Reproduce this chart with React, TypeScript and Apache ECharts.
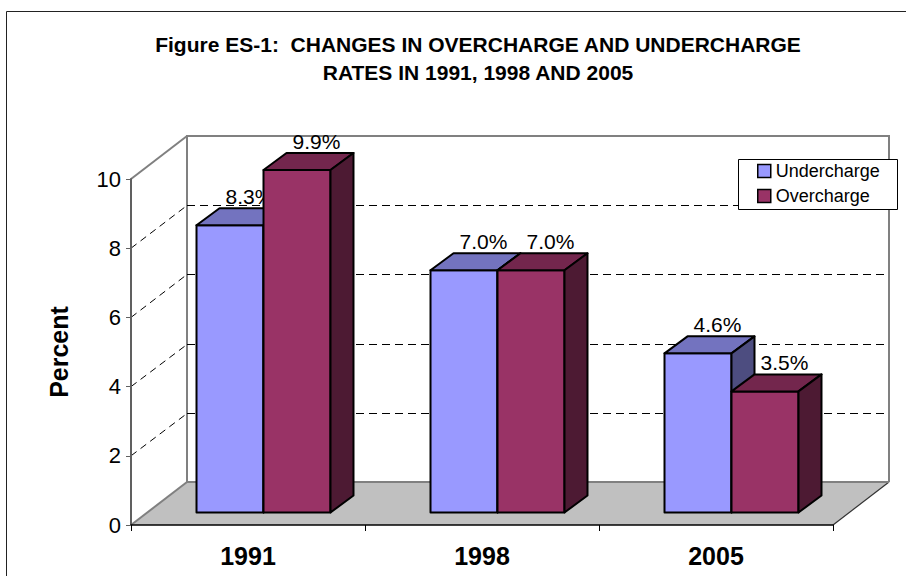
import React, { useEffect, useRef } from "react";
import * as echarts from "echarts";

// ---- data ----
const CATEGORIES = ["1991", "1998", "2005"];
const UNDERCHARGE = [8.3, 7.0, 4.6];
const OVERCHARGE = [9.9, 7.0, 3.5];
const SERIES_NAMES = ["Undercharge", "Overcharge"];
const Y_MIN = 0;
const Y_MAX = 10;
const Y_INTERVAL = 2;
const TITLE_TEXT = "Figure ES-1:  CHANGES IN OVERCHARGE AND UNDERCHARGE\nRATES IN 1991, 1998 AND 2005";
const Y_NAME = "Percent";

// ---- styling constants ----
const FONT = '"Liberation Sans", Arial, sans-serif';
const WALL_DX = 56; // depth of plot box
const WALL_DY = -43;
const BAR_OFF_X = 15.5; // front plane of bars inside box
const BAR_OFF_Y = -12.5;
const BAR_DX = 23; // bar depth
const BAR_DY = -17;
const BAR_RATIO = 0.2863;
const LABEL_SHIFT = 8;
const LEGEND_BOX = { x: 738.5, y: 159.5, w: 159, h: 50 };

const COLORS = [
  { front: "#9999FF", top: "#7373BF", side: "#4D4D80" },
  { front: "#993366", top: "#73264D", side: "#4D1A33" },
];

const crisp = (v: number) => Math.round(v) + 0.5;

function renderWalls(params: any, api: any) {
  const cs = params.coordSys;
  const x0 = cs.x;
  const x1 = cs.x + cs.width;
  const yb = api.coord([0, Y_MIN])[1];
  const yt = api.coord([0, Y_MAX])[1];
  const gray = "#808080";
  const children: any[] = [];
  children.push({
    type: "polygon",
    shape: { points: [[x0, yb], [x1, yb], [x1 + WALL_DX, yb + WALL_DY], [x0 + WALL_DX, yb + WALL_DY]] },
    style: { fill: "#C0C0C0" },
  });
  children.push({
    type: "line",
    shape: { x1: x0, y1: yb, x2: x0 + WALL_DX, y2: yb + WALL_DY },
    style: { stroke: gray, lineWidth: 2 },
  });
  children.push({
    type: "line",
    shape: { x1: x1, y1: yb, x2: x1 + WALL_DX, y2: yb + WALL_DY },
    style: { stroke: "#333", lineWidth: 1.2 },
  });
  children.push({
    type: "line",
    shape: { x1: x0 + WALL_DX, y1: yb + WALL_DY, x2: x1 + WALL_DX, y2: yb + WALL_DY },
    style: { stroke: gray, lineWidth: 2 },
  });
  children.push({
    type: "polyline",
    shape: {
      points: [
        [x0 + WALL_DX, yb + WALL_DY],
        [x0 + WALL_DX, yt + WALL_DY],
        [x1 + WALL_DX, yt + WALL_DY],
        [x1 + WALL_DX, yb + WALL_DY],
      ],
    },
    style: { stroke: gray, lineWidth: 2, fill: "none" },
  });
  children.push({
    type: "line",
    shape: { x1: x0, y1: yt, x2: x0 + WALL_DX, y2: yt + WALL_DY },
    style: { stroke: gray, lineWidth: 2 },
  });
  for (let v = Y_MIN + Y_INTERVAL; v < Y_MAX; v += Y_INTERVAL) {
    const y = api.coord([0, v])[1];
    const yBack = crisp(y + WALL_DY);
    children.push({
      type: "line",
      shape: { x1: x0, y1: y, x2: x0 + WALL_DX, y2: yBack },
      style: { stroke: "#000", lineWidth: 1, lineDash: [7, 5] },
    });
    children.push({
      type: "line",
      shape: { x1: x0 + WALL_DX, y1: yBack, x2: x1 + WALL_DX, y2: yBack },
      style: { stroke: "#000", lineWidth: 1, lineDash: [8, 5] },
    });
  }
  return { type: "group", children };
}

function makeBarRenderer(slot: number) {
  const c = COLORS[slot];
  return (params: any, api: any) => {
    const i = api.value(0);
    const v = api.value(1);
    const base = api.coord([i, 0]);
    const top = api.coord([i, v]);
    const band = api.size([1, 0])[0];
    const bw = band * BAR_RATIO;
    const cx = base[0] + BAR_OFF_X;
    const xa = slot === 0 ? cx - bw : cx;
    const xb = xa + bw;
    const yb = base[1] + BAR_OFF_Y;
    const yt = top[1] + BAR_OFF_Y;
    const edge = { stroke: "#000", lineWidth: 2, lineJoin: "round" };
    return {
      type: "group",
      children: [
        {
          type: "polygon",
          shape: { points: [[xa, yb], [xb, yb], [xb, yt], [xa, yt]] },
          style: { fill: c.front, ...edge },
        },
        {
          type: "polygon",
          shape: { points: [[xa, yt], [xb, yt], [xb + BAR_DX, yt + BAR_DY], [xa + BAR_DX, yt + BAR_DY]] },
          style: { fill: c.top, ...edge },
        },
        {
          type: "polygon",
          shape: { points: [[xb, yt], [xb + BAR_DX, yt + BAR_DY], [xb + BAR_DX, yb + BAR_DY], [xb, yb]] },
          style: { fill: c.side, ...edge },
        },
        {
          type: "text",
          x: (xa + xb) / 2 + BAR_DX / 2 + LABEL_SHIFT,
          y: yt + BAR_DY - 1,
          style: {
            text: v.toFixed(1) + "%",
            align: "center",
            verticalAlign: "bottom",
            fontSize: 21,
            fontFamily: FONT,
            fill: "#000",
          },
        },
      ],
    };
  };
}

export default function App() {
  const ref = useRef<HTMLDivElement>(null);
  useEffect(() => {
    if (!ref.current) return;
    const chart = echarts.init(ref.current, null, { renderer: "svg" });
    const option: any = {
      animation: false,
      backgroundColor: "#fff",
      title: {
        text: TITLE_TEXT,
        left: 478,
        top: 30,
        padding: 0,
        textAlign: "center",
        textStyle: { fontSize: 21, fontWeight: "bold", fontFamily: FONT, color: "#000", lineHeight: 28 },
      },
      legend: {
        orient: "vertical",
        left: 757,
        top: 162,
        z: 20,
        itemWidth: 13,
        itemHeight: 13,
        itemGap: 7,
        padding: 0,
        icon: "rect",
        textStyle: { fontSize: 18, fontFamily: FONT, color: "#000" },
        data: SERIES_NAMES.map((n, k) => ({
          name: n,
          icon: "rect",
          itemStyle: { color: COLORS[k].front, borderColor: "#000", borderWidth: 1.5 },
        })),
      },
      grid: { left: 131, right: 73, top: 179, bottom: 51, containLabel: false },
      xAxis: {
        type: "category",
        data: CATEGORIES,
        boundaryGap: true,
        z: 10,
        axisLine: { show: true, lineStyle: { color: "#000", width: 1.5 } },
        axisTick: { show: true, length: 6, lineStyle: { color: "#000", width: 1 } },
        axisLabel: { fontSize: 25, fontWeight: "bold", fontFamily: FONT, color: "#000", margin: 18 },
        splitLine: { show: false },
      },
      yAxis: {
        type: "value",
        min: Y_MIN,
        max: Y_MAX,
        interval: Y_INTERVAL,
        z: 10,
        name: Y_NAME,
        nameLocation: "middle",
        nameRotate: 90,
        nameGap: 60,
        nameTextStyle: { fontSize: 25, fontWeight: "bold", fontFamily: FONT, color: "#000" },
        axisLine: { show: true, lineStyle: { color: "#606060", width: 2 } },
        axisTick: { show: true, length: 5, lineStyle: { color: "#606060", width: 1 } },
        axisLabel: { fontSize: 22, fontFamily: FONT, color: "#000", margin: 10 },
        splitLine: { show: false },
      },
      graphic: [
        {
          type: "polyline",
          shape: { points: [[6.5, 576], [6.5, 11.5], [906, 11.5]] },
          style: { stroke: "#222", lineWidth: 1, fill: "none" },
          silent: true,
        },
        {
          type: "rect",
          z: 15,
          silent: true,
          shape: { x: LEGEND_BOX.x, y: LEGEND_BOX.y, width: LEGEND_BOX.w, height: LEGEND_BOX.h },
          style: { fill: "#fff", stroke: "#000", lineWidth: 1 },
        },
      ],
      series: [
        {
          type: "custom",
          name: "walls",
          silent: true,
          z: 1,
          renderItem: renderWalls,
          data: [[0, 0]],
        },
        {
          type: "custom",
          name: SERIES_NAMES[0],
          z: 2,
          itemStyle: { color: COLORS[0].front },
          renderItem: makeBarRenderer(0),
          data: UNDERCHARGE.map((v, i) => [i, v]),
        },
        {
          type: "custom",
          name: SERIES_NAMES[1],
          z: 3,
          itemStyle: { color: COLORS[1].front },
          renderItem: makeBarRenderer(1),
          data: OVERCHARGE.map((v, i) => [i, v]),
        },
      ],
    };
    chart.setOption(option);
    return () => chart.dispose();
  }, []);
  return (
    <div
      ref={ref}
      style={{ position: "absolute", left: 0, top: 0, width: 906, height: 576, background: "#fff" }}
    />
  );
}
